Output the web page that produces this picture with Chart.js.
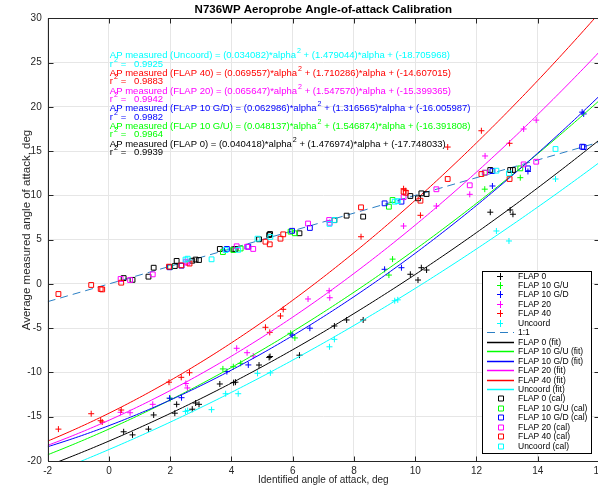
<!DOCTYPE html>
<html>
<head>
<meta charset="utf-8">
<script src="https://cdn.jsdelivr.net/npm/chart.js@4/dist/chart.umd.min.js"></script>
<style>
  html, body { margin: 0; padding: 0; overflow: hidden; background: #fff; }
  #wrap { width: 610px; height: 489px; }
</style>
</head>
<body>
<div id="wrap"><canvas id="c" width="610" height="489"></canvas></div>
<script>
// ---- series definitions ----
const seriesNames  = ['FLAP 0', 'FLAP 10 G/U', 'FLAP 10 G/D', 'FLAP 20', 'FLAP 40', 'Uncoord'];
const seriesColors = ['#000000', '#00ff00', '#0000ff', '#ff00ff', '#ff0000', '#00ffff'];

// identified alpha, measured (AP) alpha, calibrated alpha  [deg]
const flap0Alpha = [0.48, 0.77, 1.29, 1.46, 2.15, 2.21, 2.72, 2.83, 2.94, 3.62, 4.07, 4.13, 4.90, 5.23, 5.26, 6.22, 7.36, 7.76, 8.30, 9.84, 10.09, 10.20, 10.37, 12.45, 13.10, 13.19];
const flap0Meas  = [-16.7, -17.05, -16.4, -14.8, -14.6, -13.6, -14.15, -13.45, -13.6, -11.3, -11.15, -11.1, -9.16, -8.3, -8.2, -8.05, -4.75, -4.07, -4.07, 1.09, 0.44, 1.83, 1.57, 8.1, 8.35, 7.87];
const flap0Cal   = [0.66, 0.46, 0.82, 1.83, 2.02, 2.6, 2.62, 2.75, 2.7, 3.95, 3.9, 3.95, 5.04, 5.52, 5.64, 5.72, 7.2, 7.71, 7.6, 9.93, 9.67, 10.23, 10.15, 12.87, 12.87, 12.87];

const gUpAlpha = [2.0, 3.72, 4.06, 4.3, 5.93, 6.07, 9.14, 9.26, 12.27, 13.43];
const gUpMeas  = [-12.95, -9.6, -9.35, -8.97, -5.58, -6.1, 1.0, 2.8, 10.7, 12.0];
const gUpCal   = [1.9, 3.6, 3.83, 4.0, 5.9, 5.72, 8.72, 9.48, 12.55, 13.05];

const gDnAlpha = [1.98, 2.37, 3.85, 4.55, 5.98, 6.56, 9.0, 9.55, 12.52, 13.68, 15.45, 15.5];
const gDnMeas  = [-12.9, -12.85, -9.9, -9.15, -5.77, -5.0, 1.65, 1.83, 11.06, 12.7, 19.4, 19.2];
const gDnCal   = [1.88, 2.06, 3.95, 4.2, 6.0, 6.32, 9.1, 9.29, 12.75, 13.05, 15.5, 15.45];

const flap20Alpha = [0.38, 0.69, 1.43, 2.51, 2.56, 4.17, 4.51, 4.71, 6.50, 7.19, 7.21, 9.62, 10.69, 11.78, 12.28, 13.54, 13.95];
const flap20Meas  = [-14.5, -14.55, -13.6, -11.25, -11.75, -7.27, -7.77, -8.14, -1.7, -0.77, -1.56, 6.54, 8.8, 10.12, 14.45, 17.5, 18.5];
const flap20Cal   = [0.56, 0.44, 1.08, 2.51, 2.4, 4.25, 4.2, 3.95, 6.82, 7.22, 6.9, 9.8, 10.69, 11.14, 12.57, 13.5, 13.8];

const flap40Alpha = [-1.65, -0.58, -0.27, -0.22, 0.40, 1.96, 2.36, 2.63, 5.11, 5.25, 5.60, 5.69, 8.23, 9.62, 9.69, 10.17, 11.06, 12.16, 13.08];
const flap40Meas  = [-16.4, -14.66, -15.45, -15.6, -14.24, -11.1, -10.55, -10.03, -4.9, -5.47, -3.62, -2.87, 5.33, 10.75, 10.53, 7.75, 15.46, 17.3, 15.88];
const flap40Cal   = [-1.14, -0.12, -0.57, -0.62, 0.14, 1.95, 2.1, 2.3, 4.77, 4.47, 5.11, 5.6, 8.65, 10.42, 10.3, 9.4, 11.85, 12.41, 11.85];

const uncAlpha = [2.50, 2.57, 3.35, 3.81, 4.22, 4.85, 5.27, 7.20, 7.36, 9.33, 9.43, 12.65, 13.06, 14.58];
const uncMeas  = [-14.4, -14.3, -14.2, -12.4, -12.4, -10.1, -10.05, -7.1, -6.26, -1.9, -1.8, 5.98, 4.85, 11.85];
const uncCal   = [2.75, 2.85, 2.78, 3.83, 3.85, 5.11, 5.3, 6.78, 7.22, 9.29, 9.35, 12.79, 12.49, 15.24];

// quadratic fits: AP = a*alpha^2 + b*alpha + c
const fitA  = [0.040418, 0.048137, 0.062986, 0.065647, 0.069557, 0.034082];
const fitB  = [1.476974, 1.546874, 1.316565, 1.547570, 1.710286, 1.479044];
const fitC  = [-17.748033, -16.391808, -16.005987, -15.399365, -14.607015, -18.705968];
const fitR2 = ['0.9939', '0.9964', '0.9982', '0.9942', '0.9883', '0.9925'];

// 1:1 reference line
const unityX = [-2, 16];
const unityY = [-2, 16];

const xTicks = [-2, 0, 2, 4, 6, 8, 10, 12, 14, 16];
const yTicks = [-20, -15, -10, -5, 0, 5, 10, 15, 20, 25, 30];

const titleText  = 'N736WP Aeroprobe Angle-of-attack Calibration';
const xTitleText = 'Identified angle of attack, deg';
const yTitleText = 'Average measured angle of attack, deg';

// ---- build datasets ----
const alphaSets = [flap0Alpha, gUpAlpha, gDnAlpha, flap20Alpha, flap40Alpha, uncAlpha];
const measSets  = [flap0Meas, gUpMeas, gDnMeas, flap20Meas, flap40Meas, uncMeas];
const calSets   = [flap0Cal, gUpCal, gDnCal, flap20Cal, flap40Cal, uncCal];
const zip = (xs, ys) => xs.map((x, i) => ({ x, y: ys[i] }));

const FONT = "'Liberation Sans', Arial, sans-serif";
const datasets = [];

seriesNames.forEach((name, i) => {
  datasets.push({
    label: name, kind: 'cross',
    data: zip(alphaSets[i], measSets[i]),
    showLine: false, pointStyle: 'cross', pointRadius: 3, pointBorderWidth: 1,
    borderColor: seriesColors[i], backgroundColor: seriesColors[i]
  });
});

datasets.push({
  label: '1:1', kind: 'line',
  data: zip(unityX, unityY),
  showLine: true, pointRadius: 0, borderWidth: 1, borderDash: [8, 5],
  borderColor: '#2b7fc4'
});

// fit curves evaluated from the stated coefficients
const fitGrid = [];
for (let k = 0; k <= 180; k++) fitGrid.push(-2 + k * 0.1);
seriesNames.forEach((name, i) => {
  datasets.push({
    label: name + ' (fit)', kind: 'line',
    data: fitGrid.map(x => ({ x, y: fitA[i] * x * x + fitB[i] * x + fitC[i] })),
    showLine: true, pointRadius: 0, borderWidth: 1, tension: 0,
    borderColor: seriesColors[i]
  });
});

seriesNames.forEach((name, i) => {
  datasets.push({
    label: name + ' (cal)', kind: 'square',
    data: zip(alphaSets[i], calSets[i]),
    showLine: false, pointStyle: 'rect', pointRadius: 3.4, pointBorderWidth: 1,
    borderColor: seriesColors[i], backgroundColor: 'rgba(0,0,0,0)'
  });
});

// later datasets on top
datasets.forEach((d, i) => { d.order = datasets.length - i; });

// ---- plugins ----
const framePlugin = {
  id: 'frame',
  afterDatasetsDraw(chart) {
    const { ctx, chartArea: a, scales: { x, y } } = chart;
    ctx.save();
    ctx.strokeStyle = '#262626';
    ctx.lineWidth = 1;
    const L = Math.round(a.left) + 0.5, R = Math.round(a.right) + 0.5;
    const T = Math.round(a.top) + 0.5, B = Math.round(a.bottom) + 0.5;
    ctx.strokeRect(L, T, R - L, B - T);
    ctx.beginPath();
    const tl = 5;
    xTicks.forEach(v => {
      const px = Math.round(x.getPixelForValue(v)) + 0.5;
      ctx.moveTo(px, B); ctx.lineTo(px, B - tl);
      ctx.moveTo(px, T); ctx.lineTo(px, T + tl);
    });
    yTicks.forEach(v => {
      const py = Math.round(y.getPixelForValue(v)) + 0.5;
      ctx.moveTo(L, py); ctx.lineTo(L + tl, py);
      ctx.moveTo(R, py); ctx.lineTo(R - tl, py);
    });
    ctx.stroke();
    ctx.restore();
  }
};

// chart title and y-axis title, centred on the plot box
const titlesPlugin = {
  id: 'titles',
  afterDraw(chart, args, opts) {
    const { ctx, chartArea: a } = chart;
    ctx.save();
    ctx.textAlign = 'center';
    ctx.textBaseline = 'middle';
    ctx.fillStyle = '#000';
    ctx.font = 'bold 11.5px ' + FONT;
    ctx.fillText(titleText, (a.left + a.right) / 2, opts.titleY);
    ctx.fillStyle = '#262626';
    ctx.font = '11.5px ' + FONT;
    ctx.translate(opts.yTitleX, opts.yTitleY);
    ctx.rotate(-Math.PI / 2);
    ctx.fillText(yTitleText, 0, 0);
    ctx.restore();
  }
};

function drawRich(ctx, x, y, parts, size) {
  parts.forEach(p => {
    if (p.sup) {
      ctx.font = (size * 0.75) + 'px ' + FONT;
      ctx.fillText(p.t, x + 1, y - size * 0.45);
      x += ctx.measureText(p.t).width + 1;
    } else {
      ctx.font = size + 'px ' + FONT;
      ctx.fillText(p.t, x, y);
      x += ctx.measureText(p.t).width;
    }
  });
}

const fmt = v => v.toFixed(6);

const equationPlugin = {
  id: 'equations',
  afterDraw(chart, args, opts) {
    const { ctx, scales: { x, y } } = chart;
    ctx.save();
    ctx.textBaseline = 'middle';
    ctx.textAlign = 'left';
    const x0 = x.getPixelForValue(opts.alphaStart);
    opts.orderIdx.forEach((si, row) => {
      const yEq = y.getPixelForValue(opts.yStart - row * opts.yStep);
      ctx.fillStyle = seriesColors[si];
      drawRich(ctx, x0, yEq, [
        { t: 'AP measured (' + seriesNames[si] + ') = (' + fmt(fitA[si]) + ')*alpha' },
        { t: '2', sup: true },
        { t: ' + (' + fmt(fitB[si]) + ')*alpha + (' + fmt(fitC[si]) + ')' }
      ], opts.size);
      drawRich(ctx, x0, yEq + 8.3, [
        { t: 'r' }, { t: '2', sup: true }, { t: ' =   ' + fitR2[si] }
      ], opts.size);
    });
    ctx.restore();
  }
};

const legendPlugin = {
  id: 'boxLegend',
  afterDraw(chart, args, opts) {
    const { ctx } = chart;
    const ds = chart.data.datasets;
    ctx.save();
    ctx.fillStyle = '#fff';
    ctx.fillRect(opts.left, opts.top, opts.width, opts.height);
    ctx.strokeStyle = '#000';
    ctx.lineWidth = 1;
    ctx.strokeRect(opts.left + 0.5, opts.top + 0.5, opts.width, opts.height);
    ctx.font = opts.size + 'px ' + FONT;
    ctx.textBaseline = 'middle';
    ds.forEach((d, i) => {
      const cy = Math.round(opts.top + opts.firstRow + i * opts.rowStep) + 0.5;
      const cx = opts.left + opts.symX;
      ctx.strokeStyle = d.borderColor;
      ctx.lineWidth = 1;
      ctx.setLineDash([]);
      ctx.beginPath();
      if (d.kind === 'cross') {
        ctx.moveTo(cx - 3, cy); ctx.lineTo(cx + 3, cy);
        ctx.moveTo(cx + 0.5, cy - 3.5); ctx.lineTo(cx + 0.5, cy + 3.5);
      } else if (d.kind === 'square') {
        ctx.rect(Math.round(cx - 2.5) + 0.5, cy - 2.5, 5, 5);
      } else {
        if (d.borderDash) ctx.setLineDash(d.borderDash);
        ctx.moveTo(opts.left + opts.lineX0, cy); ctx.lineTo(opts.left + opts.lineX1, cy);
        if (!d.borderDash) ctx.lineWidth = 1.5;
      }
      ctx.stroke();
      ctx.setLineDash([]);
      ctx.fillStyle = '#000';
      ctx.fillText(d.label, opts.left + opts.textX, cy);
    });
    ctx.restore();
  }
};

const axisFont = { family: FONT, size: 10 };

new Chart(document.getElementById('c'), {
  type: 'scatter',
  data: { datasets },
  options: {
    responsive: false,
    animation: false,
    devicePixelRatio: 1,
    layout: { padding: { left: 0, right: 11, top: 18.3, bottom: 0 } },
    plugins: {
      legend: { display: false },
      tooltip: { enabled: false },
      title: { display: false },
      titles: { titleY: 10, yTitleX: 27, yTitleY: 230 },
      equations: { alphaStart: 0.03, yStart: 25.78, yStep: 2.0, size: 9.5, orderIdx: [5, 4, 3, 2, 1, 0] },
      boxLegend: { left: 482, top: 271, width: 109, height: 182, firstRow: 4.5, rowStep: 9.46,
                   symX: 18, lineX0: 5, lineX1: 32, textX: 36, size: 8.5 }
    },
    scales: {
      x: {
        type: 'linear', min: -2, max: 16,
        afterBuildTicks: s => { s.ticks = xTicks.map(v => ({ value: v })); },
        afterFit: s => { s.height = 28; },
        grid: { color: '#e6e6e6', drawTicks: false },
        border: { display: false },
        ticks: { font: axisFont, color: '#262626', padding: 4, maxRotation: 0 },
        title: { display: true, text: xTitleText, color: '#262626', font: axisFont, padding: { top: 0, bottom: 3 } }
      },
      y: {
        type: 'linear', min: -20, max: 30,
        afterBuildTicks: s => { s.ticks = yTicks.map(v => ({ value: v })); },
        afterFit: s => { s.width = 47.7; },
        grid: { color: '#e6e6e6', drawTicks: false },
        border: { display: false },
        ticks: { font: axisFont, color: '#262626', padding: 6 },
        title: { display: false }
      }
    }
  },
  plugins: [framePlugin, equationPlugin, legendPlugin, titlesPlugin]
});
</script>
</body>
</html>
